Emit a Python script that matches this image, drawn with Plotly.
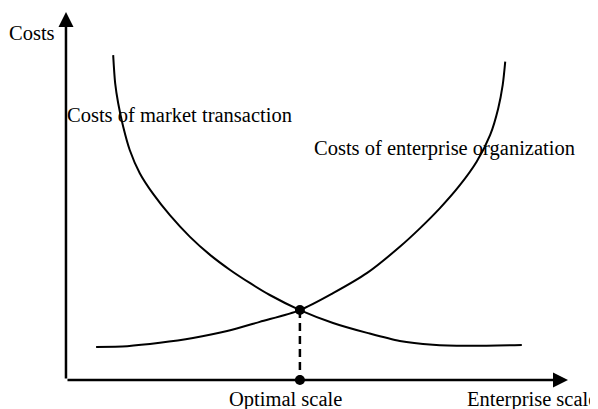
import plotly.graph_objects as go

# Data (x: enterprise scale 0-100, y: costs 0-100)
market_x = [9.4, 9.8, 10.4, 11.4, 12.7, 14.7, 17.4, 20.7, 24.7, 28.7, 32.7, 36.7, 40.6, 46.6, 53.2, 60.0, 66.5, 73.1, 79.9, 90.8]
market_y = [88.3, 80.6, 75.2, 68.8, 62.5, 56.2, 50.5, 44.8, 38.9, 34.0, 29.9, 26.3, 23.1, 19.0, 15.5, 12.8, 10.6, 9.6, 9.3, 9.5]

enterprise_x = [6.0, 12.2, 18.7, 25.3, 32.1, 38.6, 46.6, 53.2, 60.0, 66.5, 70.5, 74.5, 78.5, 81.8, 84.5, 86.1, 87.0, 87.5]
enterprise_y = [9.0, 9.2, 10.1, 11.4, 13.3, 15.8, 19.0, 23.6, 29.1, 36.2, 41.2, 46.7, 53.0, 59.3, 66.6, 73.8, 80.2, 86.5]

optimal_x = 46.6
optimal_y = 19.0

x_axis_max = 100
y_axis_max = 100

FONT = "Liberation Serif, Times New Roman, serif"
FS = 20.5

fig = go.Figure()

fig.add_trace(go.Scatter(x=market_x, y=market_y, mode="lines",
                         line=dict(color="black", width=2, shape="spline", smoothing=0.8),
                         hoverinfo="skip"))
fig.add_trace(go.Scatter(x=enterprise_x, y=enterprise_y, mode="lines",
                         line=dict(color="black", width=2, shape="spline", smoothing=0.8),
                         hoverinfo="skip"))
# dashed drop line
fig.add_trace(go.Scatter(x=[optimal_x, optimal_x], y=[optimal_y, 0], mode="lines",
                         line=dict(color="black", width=2.5, dash="8px,5px"),
                         hoverinfo="skip"))
# dots
fig.add_trace(go.Scatter(x=[optimal_x, optimal_x], y=[optimal_y, 0], mode="markers",
                         marker=dict(color="black", size=10),
                         hoverinfo="skip"))

annotations = [
    # axes with arrows
    dict(x=0, y=y_axis_max, ax=0, ay=0, xref="x", yref="y", axref="x", ayref="y",
         showarrow=True, arrowhead=2, arrowwidth=2.5, arrowsize=1.2, arrowcolor="black", text=""),
    dict(x=x_axis_max, y=0, ax=0, ay=0, xref="x", yref="y", axref="x", ayref="y",
         showarrow=True, arrowhead=2, arrowwidth=2.5, arrowsize=1.2, arrowcolor="black", text=""),
    dict(x=-1.8, y=94.3, xref="x", yref="y", text="Costs", showarrow=False,
         xanchor="right", yanchor="middle", font=dict(family=FONT, size=FS, color="black")),
    dict(x=-0.2, y=71.9, xref="x", yref="y", text="Costs of market transaction", showarrow=False,
         xanchor="left", yanchor="middle", font=dict(family=FONT, size=FS, color="black")),
    dict(x=49.0, y=63.0, xref="x", yref="y", text="Costs of enterprise organization", showarrow=False,
         xanchor="left", yanchor="middle", font=dict(family=FONT, size=FS, color="black")),
    dict(x=43.8, y=-5.3, xref="x", yref="y", text="Optimal scale", showarrow=False,
         xanchor="center", yanchor="middle", font=dict(family=FONT, size=FS, color="black")),
    dict(x=79.5, y=-5.3, xref="x", yref="y", text="Enterprise scale", showarrow=False,
         xanchor="left", yanchor="middle", font=dict(family=FONT, size=FS, color="black")),
]

# The page body adds an 8px margin, so the figure is sized to fit the window.
fig.update_layout(
    width=590, height=401,
    margin=dict(l=0, r=0, t=0, b=0),
    paper_bgcolor="white", plot_bgcolor="white",
    showlegend=False,
    xaxis=dict(range=[-11.55, 105.98], visible=False, fixedrange=True),
    yaxis=dict(range=[-7.88, 101.09], visible=False, fixedrange=True),
    annotations=annotations,
)

fig.write_html("out.html")
